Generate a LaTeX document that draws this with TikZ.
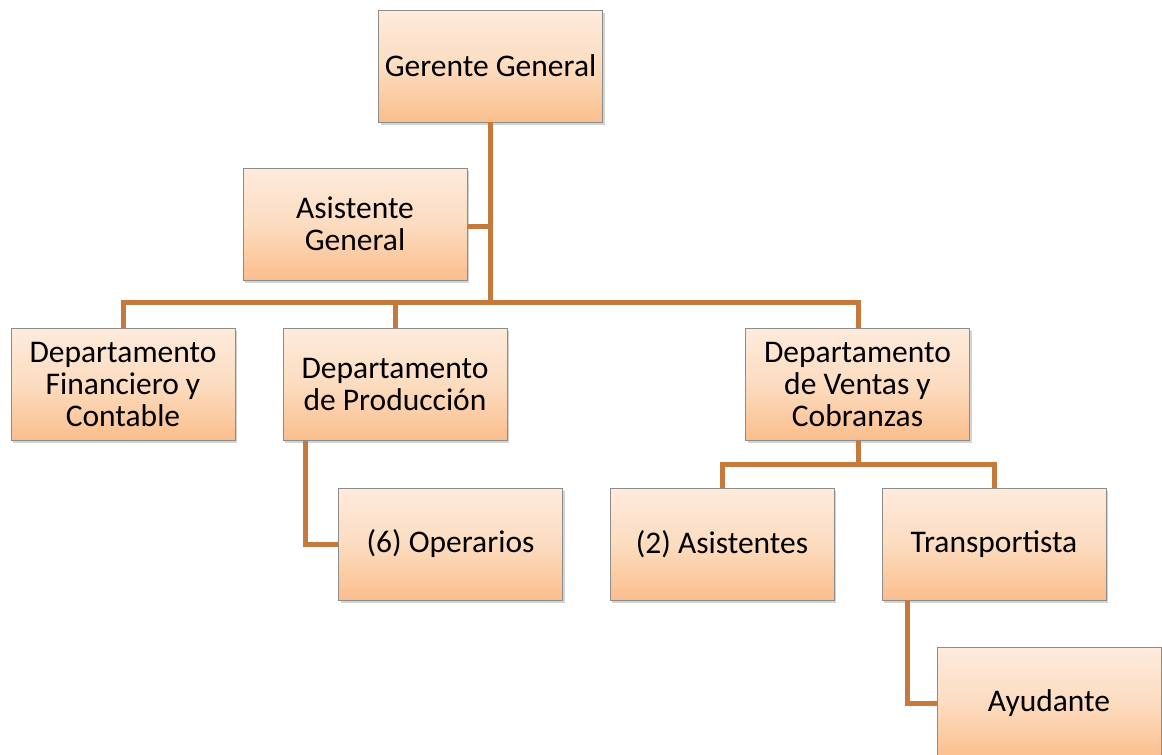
\documentclass[tikz,border=0pt]{standalone}
\usepackage{fontspec}
\setmainfont{Carlito}
\usetikzlibrary{shadows}
\definecolor{boxtop}{RGB}{253,235,220}
\definecolor{boxmid}{RGB}{252,220,192}
\definecolor{boxbot}{RGB}{251,190,140}
\definecolor{boxline}{RGB}{140,140,140}
\definecolor{conn}{RGB}{197,122,59}
\tikzset{
  orgbox/.style={draw=boxline, line width=0.8pt, top color=boxtop, bottom color=boxbot, middle color=boxmid,
    minimum width=224pt, minimum height=112pt, inner sep=2pt, align=center,
    font=\fontsize{31.5}{32}\selectfont,
    drop shadow={shadow xshift=2pt, shadow yshift=-2.5pt, opacity=0.35}},
  link/.style={draw=conn, line width=5pt}
}
\begin{document}
\begin{tikzpicture}[x=1pt,y=-1pt]
\useasboundingbox (0,0) rectangle (1162,755);
\coordinate (bus) at (490,302);
\coordinate (busL) at (123,302);
\coordinate (busP) at (395,302);
\coordinate (busR) at (858,302);
\coordinate (vbus) at (858,464);
\coordinate (vbusL) at (722,464);
\coordinate (vbusR) at (994,464);
\coordinate (pcorner) at (305,544);
\coordinate (tcorner) at (907,703);
\coordinate (asj) at (490,226);

\node[orgbox] (gg) at (490.5,66) {Gerente General};
\node[orgbox] (ag) at (355,224) {Asistente\\General};
\node[orgbox] (df) at (123,384.5) {Departamento\\Financiero y\\Contable};
\node[orgbox] (dp) at (395,384.5) {Departamento\\de Producción};
\node[orgbox] (dv) at (857.5,384.5) {Departamento\\de Ventas y\\Cobranzas};
\node[orgbox] (op) at (450.5,544) {(6) Operarios};
\node[orgbox] (as) at (722,544) {(2) Asistentes};
\node[orgbox] (tr) at (994,544) {Transportista};
\node[orgbox] (ay) at (1049,703) {Ayudante};

\draw[link] (gg.south -| bus) -- (bus);
\draw[link] (ag.east |- asj) -- (asj);
\draw[link] (busL |- df.north) -- (busL) -- (busR) -- (busR |- dv.north);
\draw[link] (busP) -- (busP |- dp.north);
\draw[link] (pcorner |- dp.south) -- (pcorner) -- (op.west |- pcorner);
\draw[link] (vbus |- dv.south) -- (vbus);
\draw[link] (vbusL |- as.north) -- (vbusL) -- (vbusR) -- (vbusR |- tr.north);
\draw[link] (tcorner |- tr.south) -- (tcorner) -- (ay.west |- tcorner);
\end{tikzpicture}
\end{document}
